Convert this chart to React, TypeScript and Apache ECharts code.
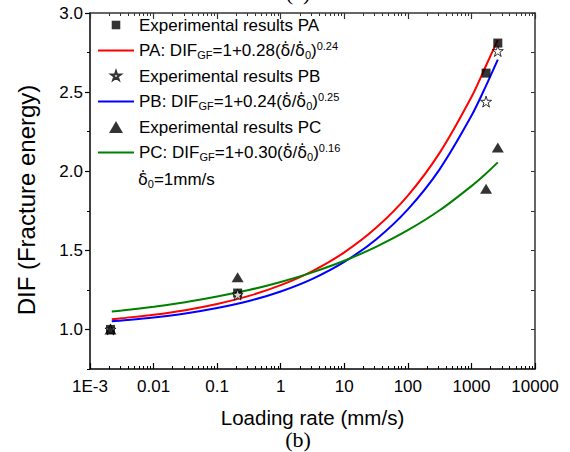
import React, { useEffect, useRef } from "react";
import * as echarts from "echarts";

// Measured fracture-energy DIF for the three series
const expRate = [0.0021, 0.21, 1700, 2600];
const expPA = [1.0, 1.23, 2.62, 2.81];
const expPB = [1.0, 1.22, 2.44, 2.76];
const expPC = [1.0, 1.33, 1.89, 2.15];

// Fitted curves, sampled along the loading-rate axis
const fitRate = [0.0022, 0.00316, 0.01, 0.0316, 0.1, 0.316, 1, 3.16, 10, 31.6, 100, 316, 1000, 1700, 2600];
const fitPA = [1.064, 1.071, 1.093, 1.122, 1.161, 1.212, 1.28, 1.369, 1.487, 1.642, 1.846, 2.116, 2.469, 2.668, 2.83];
const fitPB = [1.052, 1.057, 1.076, 1.101, 1.135, 1.18, 1.24, 1.32, 1.427, 1.569, 1.759, 2.012, 2.35, 2.541, 2.705];
const fitPC = [1.113, 1.119, 1.144, 1.172, 1.208, 1.249, 1.3, 1.361, 1.434, 1.522, 1.627, 1.753, 1.906, 1.986, 2.056];

// Axis ticks and labels
const xMajorTicks = [0.001, 0.01, 0.1, 1, 10, 100, 1000, 10000];
const xTickLabels = ["1E-3", "0.01", "0.1", "1", "10", "100", "1000", "10000"];
const yMajorTicks = [1.0, 1.5, 2.0, 2.5, 3.0];
const yMinorTicks = [0.75, 1.25, 1.75, 2.25, 2.75];

const FONT = '"Liberation Sans", Arial, Helvetica, sans-serif';
const GREEK = '"DejaVu Sans", "Liberation Sans", sans-serif';
const SERIF = '"Liberation Serif", "Times New Roman", serif';
const DOT_DELTA = "\u03B4\u0307";

const STAR =
  "path://M50,0L61.23,34.55L97.55,34.55L68.16,55.9L79.39,90.45L50,69.1L20.61,90.45L31.84,55.9L2.45,34.55L38.77,34.55Z";
const SQUARE = "path://M0,0L10,0L10,10L0,10Z";
const STAR_ICON =
  "path://M-12,-12M112,112M50,0L61.23,34.55L97.55,34.55L68.16,55.9L79.39,90.45L50,69.1L20.61,90.45L31.84,55.9L2.45,34.55L38.77,34.55Z";
const SQUARE_ICON = "path://M-2,-2M12,12M0,0L10,0L10,10L0,10Z";
const TRIANGLE_ICON = "path://M-3,0M103,0M50,0L100,86.6L0,86.6Z";

const NAMES = {
  expPA: "Experimental results PA",
  fitPA: "PA fit",
  expPB: "Experimental results PB",
  fitPB: "PB fit",
  expPC: "Experimental results PC",
  fitPC: "PC fit",
};

function fitLabel(tag: string, a: string, b: string) {
  return `{t|${tag}: DIF}{gf|GF}{t|=1+${a}(}{d|${DOT_DELTA}}{t|/}{d|${DOT_DELTA}}{sub|0}{t|)}{sup|${b}}`;
}

const legendText: Record<string, string> = {
  [NAMES.expPA]: "{t|Experimental results PA}",
  [NAMES.fitPA]: fitLabel("PA", "0.28", "0.24"),
  [NAMES.expPB]: "{t|Experimental results PB}",
  [NAMES.fitPB]: fitLabel("PB", "0.24", "0.25"),
  [NAMES.expPC]: "{t|Experimental results PC}",
  [NAMES.fitPC]: fitLabel("PC", "0.30", "0.16"),
};

const richStyles = {
  t: { fontSize: 17, fontFamily: FONT, color: "#000", lineHeight: 20, verticalAlign: "middle" },
  d: { fontSize: 16, fontFamily: GREEK, color: "#000", lineHeight: 20, verticalAlign: "middle" },
  gf: { fontSize: 11, fontFamily: FONT, color: "#000", lineHeight: 17, verticalAlign: "bottom" },
  sub: { fontSize: 11, fontFamily: FONT, color: "#000", verticalAlign: "bottom" },
  sup: { fontSize: 11, fontFamily: FONT, color: "#000", verticalAlign: "top" },
};

const xMinorTicks: number[] = [];
for (let e = -3; e < 4; e++) {
  for (let k = 2; k <= 9; k++) xMinorTicks.push(k * Math.pow(10, e));
}

function pairs(xs: number[], ys: number[]) {
  return xs.map((x, i) => [x, ys[i]]);
}

export default function App() {
  const ref = useRef<HTMLDivElement>(null);

  useEffect(() => {
    if (!ref.current) return;
    const chart = echarts.init(ref.current, null, { renderer: "svg" });

    const logAxisBase = {
      type: "log",
      logBase: 10,
      min: 0.001,
      max: 10000,
      splitLine: { show: false },
    };

    const fitLine = (name: string, ys: number[], color: string) => ({
      name,
      type: "line",
      data: pairs(fitRate, ys),
      smooth: 0.3,
      symbol: "none",
      showSymbol: false,
      lineStyle: { color, width: 2 },
      itemStyle: { color },
      z: 2,
    });

    const option = {
      animation: false,
      backgroundColor: "#fff",
      grid: { left: 90, right: 35, top: 13, bottom: 83, containLabel: false },
      xAxis: [
        {
          ...logAxisBase,
          position: "bottom",
          axisLine: { show: true, lineStyle: { color: "#000", width: 1.5 } },
          axisTick: { show: true, inside: true, length: 6, customValues: xMajorTicks, lineStyle: { color: "#000", width: 1.2 } },
          axisLabel: {
            customValues: xMajorTicks,
            formatter: (v: number) => xTickLabels[Math.round(Math.log10(v)) + 3],
            fontSize: 17,
            fontFamily: FONT,
            color: "#000",
            margin: 9,
          },
          name: "Loading rate (mm/s)",
          nameLocation: "middle",
          nameGap: 39,
          nameTextStyle: { fontSize: 20.5, lineHeight: 18, fontFamily: FONT, color: "#000" },
        },
        {
          ...logAxisBase,
          position: "bottom",
          axisLine: { show: false },
          axisTick: { show: true, inside: true, length: 3, customValues: xMinorTicks, lineStyle: { color: "#000", width: 1 } },
          axisLabel: { show: false },
        },
        {
          ...logAxisBase,
          position: "top",
          axisLine: { show: true, lineStyle: { color: "#333", width: 1.5 } },
          axisTick: { show: true, inside: true, length: 6, customValues: xMajorTicks, lineStyle: { color: "#333", width: 1.2 } },
          axisLabel: { show: false },
        },
        {
          ...logAxisBase,
          position: "top",
          axisLine: { show: false },
          axisTick: { show: true, inside: true, length: 3, customValues: xMinorTicks, lineStyle: { color: "#333", width: 1 } },
          axisLabel: { show: false },
        },
      ],
      yAxis: [
        {
          type: "value",
          position: "left",
          min: 0.75,
          max: 3.0,
          splitLine: { show: false },
          axisLine: { show: true, lineStyle: { color: "#000", width: 1.5 } },
          axisTick: { show: true, inside: false, length: 5, customValues: yMajorTicks, lineStyle: { color: "#000", width: 1.2 } },
          axisLabel: {
            customValues: yMajorTicks,
            formatter: (v: number) => v.toFixed(1),
            fontSize: 17,
            fontFamily: FONT,
            color: "#000",
            margin: 7,
          },
          name: "DIF (Fracture energy)",
          nameLocation: "middle",
          nameGap: 51,
          nameTextStyle: { fontSize: 24, lineHeight: 26, fontFamily: FONT, color: "#000", padding: [0, 18, 0, 0] },
        },
        {
          type: "value",
          position: "left",
          min: 0.75,
          max: 3.0,
          splitLine: { show: false },
          axisLine: { show: false },
          axisTick: { show: true, inside: false, length: 3, customValues: yMinorTicks, lineStyle: { color: "#000", width: 1 } },
          axisLabel: { show: false },
        },
        {
          type: "value",
          position: "right",
          min: 0.75,
          max: 3.0,
          splitLine: { show: false },
          axisLine: { show: true, lineStyle: { color: "#333", width: 1.5 } },
          axisTick: {
            show: true,
            inside: true,
            length: 4,
            customValues: [...yMajorTicks, ...yMinorTicks],
            lineStyle: { color: "#333", width: 1 },
          },
          axisLabel: { show: false },
        },
      ],
      legend: {
        orient: "vertical",
        left: 97,
        top: 16.5,
        padding: 0,
        itemGap: 7,
        itemWidth: 36,
        itemHeight: 12,
        selectedMode: false,
        data: [
          { name: NAMES.expPA, icon: SQUARE_ICON },
          { name: NAMES.fitPA, itemStyle: { opacity: 0 } },
          { name: NAMES.expPB, icon: STAR_ICON },
          { name: NAMES.fitPB, itemStyle: { opacity: 0 } },
          { name: NAMES.expPC, icon: TRIANGLE_ICON },
          { name: NAMES.fitPC, itemStyle: { opacity: 0 } },
        ],
        formatter: (name: string) => legendText[name] ?? name,
        textStyle: { fontSize: 17, fontFamily: FONT, color: "#000", rich: richStyles },
      },
      graphic: [
        {
          type: "text",
          left: 138,
          top: 171,
          style: {
            text: `{d|${DOT_DELTA}}{sub|0}{t|=1mm/s}`,
            rich: richStyles,
            fill: "#000",
          },
        },
        {
          type: "text",
          x: 298,
          y: 439,
          style: {
            text: "(b)",
            font: `22px ${SERIF}`,
            lineHeight: 20,
            fill: "#000",
            align: "center",
            verticalAlign: "middle",
          },
        },
        {
          type: "text",
          x: 298,
          y: -8,
          style: {
            text: "(a)",
            font: `22px ${SERIF}`,
            lineHeight: 20,
            fill: "#000",
            align: "center",
            verticalAlign: "middle",
          },
        },
      ],
      series: [
        fitLine(NAMES.fitPA, fitPA, "#ff0000"),
        fitLine(NAMES.fitPB, fitPB, "#0000ff"),
        fitLine(NAMES.fitPC, fitPC, "#008000"),
        {
          name: NAMES.expPA,
          type: "scatter",
          data: pairs(expRate, expPA),
          symbol: SQUARE,
          symbolSize: 9,
          itemStyle: { color: "#000" },
          z: 3,
        },
        {
          name: NAMES.expPB,
          type: "scatter",
          data: pairs(expRate, expPB),
          symbol: STAR,
          symbolSize: 11,
          itemStyle: { color: "#fff", borderColor: "#000", borderWidth: 1 },
          z: 4,
        },
        {
          name: NAMES.expPC,
          type: "scatter",
          data: pairs(expRate, expPC),
          symbol: "triangle",
          symbolSize: [12, 10],
          itemStyle: { color: "#000" },
          z: 5,
        },
      ],
    };

    chart.setOption(option as any);
    return () => chart.dispose();
  }, []);

  return (
    <div
      ref={ref}
      style={{ position: "fixed", left: 0, top: 0, width: 570, height: 452, background: "#fff" }}
    />
  );
}
